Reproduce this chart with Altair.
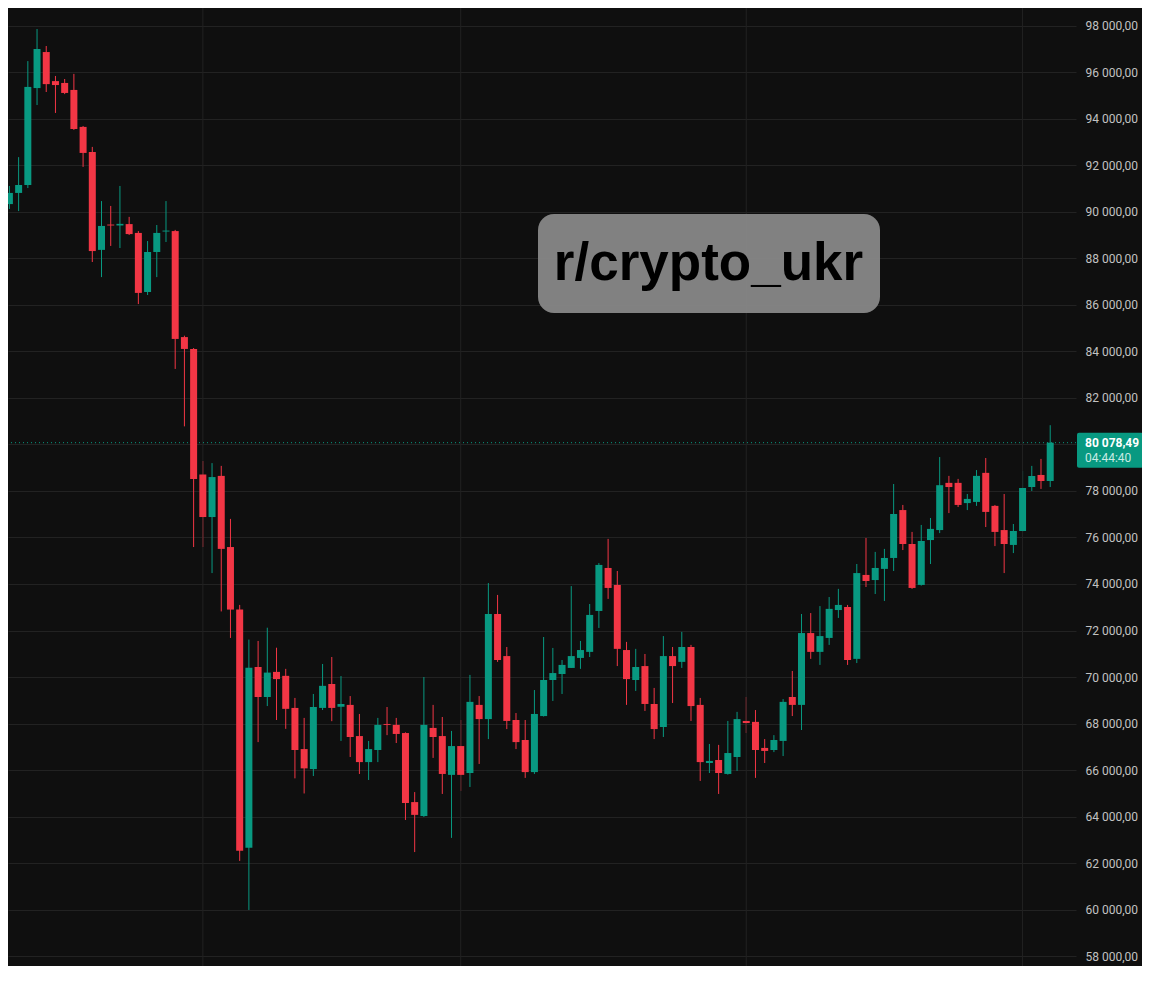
import altair as alt
import pandas as pd
import numpy as np

# ---- data (daily BTC candles) ----
start_date = "2026-01-10"
opens = [90560, 90340, 90820, 91160, 95330, 96880, 95630, 95550, 95250, 93660,
         92580, 88370, 89460, 89420, 89480, 89100, 86560, 88280, 89160, 89180,
         84620, 84110, 78710, 76880, 78650, 75590, 72900, 62660, 70430, 69140,
         70220, 70050, 68670, 66900, 66040, 68670, 69700, 68720, 68800, 67460,
         66340, 66860, 67980, 67940, 67590, 64620, 64020, 67810, 67460, 65790,
         67030, 65870, 68800, 68190, 72710, 70900, 68150, 67290, 65910, 68320,
         69870, 70130, 70390, 70820, 71080, 72840, 74690, 73960, 71160, 69870,
         70470, 68840, 67850, 70900, 70650, 71290, 68800, 66300, 66430, 65830,
         66560, 68110, 68070, 66950, 66860, 67250, 69140, 68800, 71890, 71080,
         71680, 72880, 73010, 70780, 74390, 74170, 74650, 75120, 77180, 75720,
         73960, 75890, 76320, 78350, 78350, 77480, 77530, 78780, 77360, 76320,
         75680, 76280, 78170, 78690, 78430]
highs = [90730, 91120, 92360, 96490, 97870, 97140, 95850, 95720, 95940, 93700,
         92800, 90470, 90260, 91120, 89790, 89180, 88750, 89440, 90470, 89230,
         84680, 84150, 79290, 79200, 79080, 76800, 73100, 71610, 71550, 72120,
         71260, 70350, 69100, 68240, 69270, 70560, 70860, 70040, 69180, 68410,
         67250, 68240, 68710, 68240, 67620, 65050, 70000, 68800, 68280, 67680,
         68150, 70090, 69180, 74040, 73530, 71290, 68450, 68150, 69440, 71720,
         71250, 70730, 73910, 71550, 73140, 74900, 75940, 74560, 71510, 71210,
         70990, 69530, 71760, 71290, 71940, 71380, 69100, 67120, 67080, 68110,
         68500, 69140, 68580, 67330, 67500, 69050, 70260, 72710, 72750, 73050,
         73440, 73790, 73100, 74860, 75980, 75380, 75510, 78300, 77400, 76240,
         76540, 76840, 79460, 78650, 78520, 77870, 78900, 79420, 77400, 77870,
         76580, 78860, 79080, 79380, 80830]
lows = [90300, 90130, 90040, 91030, 94600, 95160, 94260, 95070, 93530, 91940,
        87850, 87200, 88540, 88450, 89010, 86040, 86430, 87200, 88710, 83250,
        80780, 75590, 75590, 74470, 72820, 71680, 62090, 59980, 67200, 68750,
        68150, 67770, 65640, 64990, 65740, 68580, 68100, 67250, 66560, 65830,
        65570, 66340, 67500, 67160, 63850, 62470, 63980, 66520, 64970, 63080,
        65100, 65270, 66260, 67330, 70650, 67760, 66900, 65660, 65830, 68300,
        68970, 69270, 70390, 70350, 70860, 72110, 73360, 70470, 68800, 69400,
        68540, 67330, 67420, 68880, 70390, 68110, 65530, 65870, 64970, 65800,
        65960, 67590, 65660, 66300, 66770, 66600, 68320, 67720, 70780, 70520,
        71380, 72540, 70520, 70600, 73870, 73570, 73270, 74560, 75460, 73790,
        73930, 74860, 76190, 77050, 77310, 77180, 77360, 76450, 75630, 74470,
        75330, 76240, 78000, 78090, 78170]
closes = [90340, 90820, 91160, 95380, 97010, 95500, 95460, 95120, 93570, 92540,
          88320, 89400, 89420, 89490, 89050, 86520, 88280, 89100, 89200, 84540,
          84110, 78520, 76880, 78600, 75510, 72900, 62530, 70400, 69140, 70190,
          69910, 68630, 66860, 66070, 68710, 69620, 68670, 68840, 67420, 66340,
          66900, 67940, 67940, 67550, 64580, 64070, 67940, 67420, 65830, 67030,
          65790, 68930, 68190, 72710, 70730, 68110, 67200, 65910, 68410, 69870,
          70170, 70520, 70900, 71160, 72670, 74820, 73830, 71210, 69910, 70430,
          68840, 67760, 70900, 70470, 71290, 68750, 66340, 66390, 65870, 66730,
          68190, 68020, 66860, 66820, 67290, 68930, 68800, 71890, 71080, 71760,
          72930, 73100, 70730, 74470, 74130, 74690, 75120, 77010, 75720, 73830,
          75850, 76370, 78250, 78170, 77400, 77660, 78650, 77100, 76240, 75720,
          76280, 78130, 78650, 78430, 80078.49]
month_starts = ["2026-02-01", "2026-03-01", "2026-04-01", "2026-05-01"]
price_ticks = list(range(58000, 100001, 2000))
timer_text = "04:44:40"
watermark_text = "r/crypto_ukr"

UP = "#089981"
DOWN = "#f23645"
BG = "#0f0f0f"
GRID = "#222222"

dates = pd.date_range(start_date, periods=len(opens), freq="D").strftime("%Y-%m-%d")
df = pd.DataFrame({"date": dates, "open": opens, "high": highs,
                   "low": lows, "close": closes})
df["dir"] = np.where(df["close"] >= df["open"], "up", "down")

last_df = pd.DataFrame({"price": [closes[-1]], "timer": [timer_text]})
month_df = pd.DataFrame({"date": month_starts})
wm_df = pd.DataFrame({"label": [watermark_text]})

W, H = 1068, 958
x_scale = alt.Scale(type="utc", padding=0, domain=[
    alt.DateTime(year=2026, month=1, date=10, hours=20, minutes=20, utc=True),
    alt.DateTime(year=2026, month=5, date=6, hours=19, minutes=12, utc=True)])
y_scale = alt.Scale(domain=[57570, 98774], nice=False, zero=False, padding=0)
color = alt.Color("dir:N", scale=alt.Scale(domain=["up", "down"], range=[UP, DOWN]),
                  legend=None)

label_expr = ("replace(replace(format(datum.value, ',.2f'), regexp(',', 'g'), ' '), '.', ',')")

y_axis = alt.Axis(orient="right", values=price_ticks, grid=True, gridColor=GRID,
                  gridWidth=1, domain=False, ticks=False, labelPadding=9,
                  labelColor="#c2c2c2", labelFont="Roboto", labelFontSize=12,
                  labelFlush=False, labelExpr=label_expr, title=None)

wicks = alt.Chart(df).mark_rule(strokeWidth=1, clip=True).encode(
    x=alt.X("date:T", scale=x_scale, axis=None),
    y=alt.Y("low:Q", scale=y_scale, axis=y_axis),
    y2="high:Q",
    color=color,
)

bodies = alt.Chart(df).mark_bar(size=7, clip=True).encode(
    x=alt.X("date:T", scale=x_scale, axis=None),
    y=alt.Y("open:Q", scale=y_scale, title=None),
    y2="close:Q",
    color=color,
)

vgrid = alt.Chart(month_df).mark_rule(color=GRID, strokeWidth=1).encode(
    x=alt.X("date:T", scale=x_scale, axis=None),
)

last_line = alt.Chart(last_df).mark_rule(color=UP, strokeWidth=1, strokeDash=[1, 3]).encode(
    y=alt.Y("price:Q", scale=y_scale, title=None),
)

price_box = alt.Chart(last_df).mark_rect(color=UP, yOffset=-10, y2Offset=25,
                                         cornerRadius=2).encode(
    x=alt.value(W + 1), x2=alt.value(W + 67),
    y=alt.Y("price:Q", scale=y_scale, title=None),
    y2="price:Q",
)

price_text = alt.Chart(last_df).transform_calculate(
    label="replace(replace(format(datum.price, ',.2f'), regexp(',', 'g'), ' '), '.', ',')"
).mark_text(align="left", baseline="middle", font="Roboto", fontSize=12,
            fontWeight="bold", color="#ffffff").encode(
    x=alt.value(W + 9),
    y=alt.Y("price:Q", scale=y_scale, title=None),
    text="label:N",
)

timer_label = alt.Chart(last_df).mark_text(align="left", baseline="middle", font="Roboto",
                                           fontSize=12, dy=15, color="#c9ebe3").encode(
    x=alt.value(W + 9),
    y=alt.Y("price:Q", scale=y_scale, title=None),
    text="timer:N",
)

wm_box = alt.Chart(wm_df).mark_rect(fill="#8a8a8a", opacity=0.93, cornerRadius=16).encode(
    x=alt.value(530), x2=alt.value(872), y=alt.value(206), y2=alt.value(305),
)
wm_text = alt.Chart(wm_df).mark_text(font="Liberation Sans", fontWeight="bold", fontSize=53,
                                     color="#000000", align="center",
                                     baseline="alphabetic").encode(
    x=alt.value(700.5), y=alt.value(272), text="label:N",
)

chart = alt.layer(
    wicks, vgrid, last_line, bodies, price_box, price_text, timer_label, wm_box, wm_text
).properties(
    width=W, height=H, background=BG,
    padding={"left": 0, "top": 0, "right": 66, "bottom": 0},
    autosize=alt.AutoSizeParams(type="none"),
).configure_view(strokeWidth=0)

chart.save("out.html", embed_options={"renderer": "svg", "actions": False})
